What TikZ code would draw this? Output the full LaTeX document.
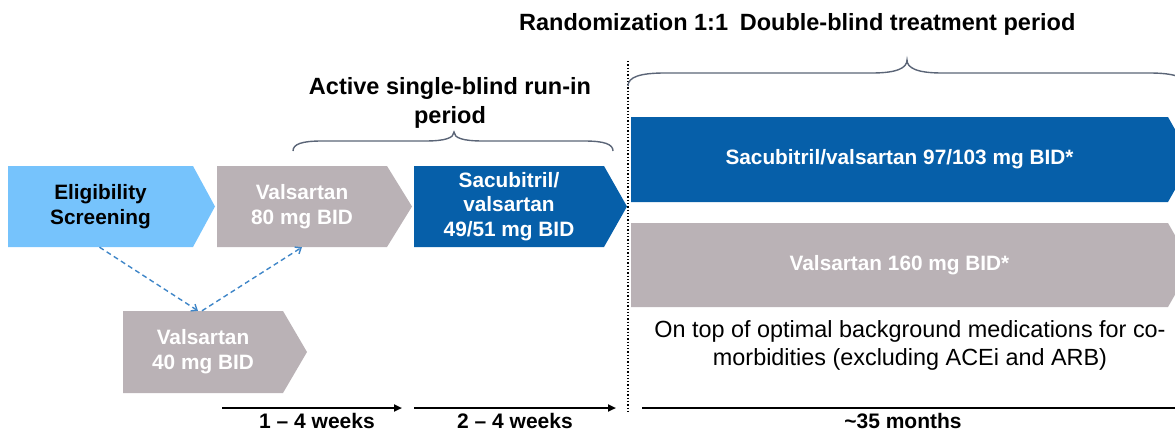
\documentclass[tikz,border=0pt]{standalone}
\usepackage{fontspec}
\setmainfont{Liberation Sans}
\usetikzlibrary{arrows.meta}

\definecolor{screenblue}{HTML}{76C3FC}
\definecolor{drugblue}{HTML}{065FA9}
\definecolor{valgray}{HTML}{BAB2B6}
\definecolor{bracegray}{HTML}{5B6577}
\definecolor{dashblue}{HTML}{3F86C8}

% chevron-shaped phase box: #1 name, #2 fill, #3 text colour,
% #4 left, #5 top, #6 body right, #7 bottom, #8 tip x, #9 label
\newcommand\phasebox[9]{%
  \fill[#2] (#4,#5) -- (#6,#5) -- (#8,{(#5+#7)/2}) -- (#6,#7) -- (#4,#7) -- cycle;
  \node[phasetext, text=#3, minimum width={#6-#4}, minimum height={#7-#5}]
    (#1) at ({(#4+#6)/2},{(#5+#7)/2}) {#9};}

\begin{document}
\begin{tikzpicture}[x=1pt, y=-1pt,
  phasetext/.style={inner sep=0pt, align=center,
    font=\fontsize{20.8}{24.8}\selectfont\bfseries},
  heading/.style={inner sep=0pt, align=center,
    font=\fontsize{23.5}{29}\selectfont\bfseries},
  note/.style={inner sep=0pt, align=center,
    font=\fontsize{23.4}{28}\selectfont},
  spanlabel/.style={inner sep=0pt, anchor=base,
    font=\fontsize{21}{25}\selectfont\bfseries},
  bracket/.style={draw=bracegray, line width=1.4pt},
  dasharrow/.style={draw=dashblue, line width=1.4pt, dash pattern=on 5pt off 3.5pt,
    -{Straight Barb[length=5pt,width=8pt,line width=1.4pt]}},
  timearrow/.style={draw=black, line width=2.2pt,
    -{Triangle[length=8pt,width=7pt]}},
  timeline/.style={draw=black, line width=2.2pt}]

\useasboundingbox (0,0) rectangle (1175,431);
\clip (0,0) rectangle (1175,431);

% run-in phases
\phasebox{elig}{screenblue}{black}{8}{166}{193}{247}{215}{Eligibility\\Screening}
\phasebox{v80}{valgray}{white}{217}{166}{387}{247}{412}{Valsartan\\80 mg BID}
\phasebox{sv49}{drugblue}{white}{414}{166}{604}{247}{627}{Sacubitril/\\valsartan\\49/51 mg BID}
\phasebox{v40}{valgray}{white}{123}{311}{283}{393}{307}{Valsartan\\40 mg BID}

% randomised arms
\phasebox{sv97}{drugblue}{white}{631}{117}{1168}{202}{1192}{Sacubitril/valsartan 97/103 mg BID*}
\phasebox{v160}{valgray}{white}{631}{223}{1168}{307}{1192}{Valsartan 160 mg BID*}

% optional low-dose start
\draw[dasharrow] ([xshift=-1pt]elig.south) -- ([xshift=-5pt]v40.north);
\draw[dasharrow] ([xshift=-1pt]v40.north) -- (v80.south);

% randomization line
\draw[dotted, line width=1.3pt] (628,61) -- (628,413);

% headings
\node[heading, anchor=base west] (rand) at (519,30)
  {Randomization 1:1\hspace{0.5em}Double-blind treatment period};
\node[heading, anchor=north] (runin) at (450,77)
  {Active single-blind run-in\\period};

% braces
\draw[bracket] (293,151) .. controls (293,144) and (302,141) .. (322,141)
  -- (425,141) .. controls (445,141) and (454,138) .. (454,132)
  .. controls (454,138) and (463,141) .. (483,141)
  -- (584,141) .. controls (604,141) and (613,144) .. (613,151);
\draw[bracket] (628,86) .. controls (628,77) and (640,73) .. (665,73)
  -- (872,73) .. controls (897,73) and (907,68) .. (907,60)
  .. controls (907,68) and (917,73) .. (942,73)
  -- (1149,73) .. controls (1174,73) and (1186,77) .. (1186,86);

% background therapy note
\node[note, anchor=north] (bg) at (910,320)
  {On top of optimal background medications for co-\\morbidities (excluding ACEi and ARB)};

% time axis
\coordinate (t1a) at (222,408);
\coordinate (t1b) at (402,408);
\coordinate (t2a) at (414,408);
\coordinate (t2b) at (616,408);
\coordinate (t3a) at (642,408);
\coordinate (t3b) at (1180,408);
\draw[timearrow] (t1a) -- (t1b);
\draw[timearrow] (t2a) -- (t2b);
\draw[timeline] (t3a) -- (t3b);
\node[spanlabel] (w1) at (317,428) {1 – 4 weeks};
\node[spanlabel] (w2) at (515,428) {2 – 4 weeks};
\node[spanlabel] (m35) at (903,428) {\char`\~35 months};
\end{tikzpicture}
\end{document}
